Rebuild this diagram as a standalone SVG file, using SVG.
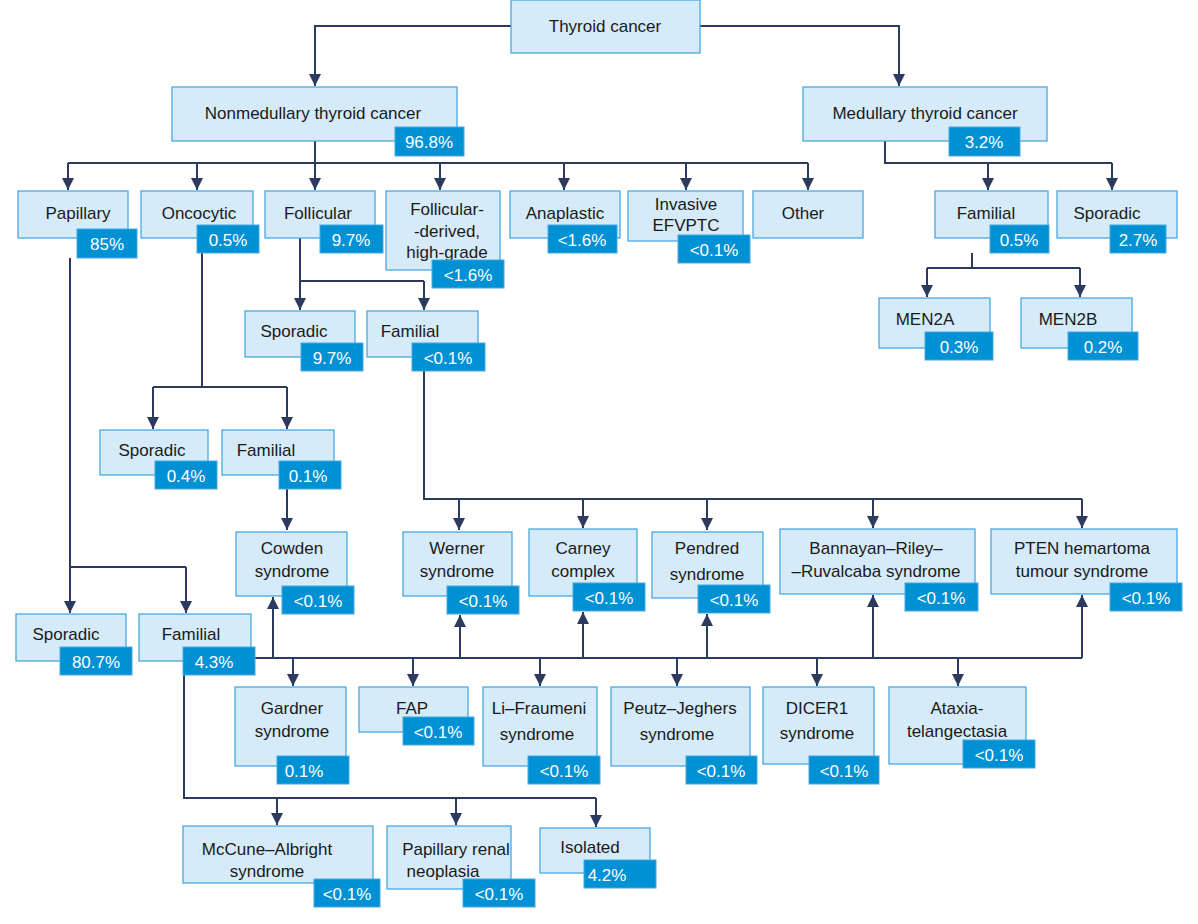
<svg xmlns="http://www.w3.org/2000/svg" width="1198" height="924" viewBox="0 0 1198 924">
<defs>
<marker id="ar" viewBox="0 0 10 10" refX="10" refY="5" markerWidth="12" markerHeight="12" markerUnits="userSpaceOnUse" orient="auto"><path d="M0,0L10,5L0,10z" fill="#2b3a5e"/></marker>
<style>
.b{fill:#d5ebf9;stroke:#4aa8e0;stroke-width:1.3}
.g{fill:#0090d4;stroke:#4aa8e0;stroke-width:1}
.t{font-family:"Liberation Sans",Arial,sans-serif;font-size:17px;fill:#1a1a1a;text-anchor:middle}
.w{font-family:"Liberation Sans",Arial,sans-serif;font-size:17px;fill:#fff;text-anchor:middle}
.c path{fill:none;stroke:#2b3a5e;stroke-width:2}
</style>
</defs>
<rect width="1198" height="924" fill="#fff"/>
<g class="c">
<path d="M511,26H315V86" marker-end="url(#ar)"/>
<path d="M700,26H899V86" marker-end="url(#ar)"/>
<path d="M315,141V163M68,163H808"/>
<path d="M68,163V190" marker-end="url(#ar)"/><path d="M197,163V190" marker-end="url(#ar)"/><path d="M315,163V190" marker-end="url(#ar)"/><path d="M440,163V190" marker-end="url(#ar)"/><path d="M564,163V190" marker-end="url(#ar)"/><path d="M686,163V190" marker-end="url(#ar)"/><path d="M808,163V190" marker-end="url(#ar)"/>
<path d="M885,141V163H1112"/>
<path d="M988,163V190" marker-end="url(#ar)"/><path d="M1112,163V190" marker-end="url(#ar)"/>
<path d="M972,253V268M927,268H1080"/>
<path d="M927,268V297" marker-end="url(#ar)"/><path d="M1080,268V297" marker-end="url(#ar)"/>
<path d="M300,238V281H424"/>
<path d="M300,281V310" marker-end="url(#ar)"/><path d="M424,281V310" marker-end="url(#ar)"/>
<path d="M202,253V387M153,387H287"/>
<path d="M153,387V429" marker-end="url(#ar)"/><path d="M287,387V429" marker-end="url(#ar)"/>
<path d="M287,489V530" marker-end="url(#ar)"/>
<path d="M424,371V499H1082"/>
<path d="M459,499V530" marker-end="url(#ar)"/><path d="M583,499V528" marker-end="url(#ar)"/><path d="M707,499V530" marker-end="url(#ar)"/><path d="M873,499V528" marker-end="url(#ar)"/><path d="M1082,499V528" marker-end="url(#ar)"/>
<path d="M70,258V567H186"/>
<path d="M70,567V613" marker-end="url(#ar)"/><path d="M186,567V613" marker-end="url(#ar)"/>
<path d="M255,658H1082"/>
<path d="M273,658V597" marker-end="url(#ar)"/><path d="M460,658V615" marker-end="url(#ar)"/><path d="M583,658V612" marker-end="url(#ar)"/><path d="M707,658V614" marker-end="url(#ar)"/><path d="M873,658V595" marker-end="url(#ar)"/><path d="M1082,658V595" marker-end="url(#ar)"/>
<path d="M293,658V686" marker-end="url(#ar)"/><path d="M413,658V686" marker-end="url(#ar)"/><path d="M540,658V686" marker-end="url(#ar)"/><path d="M677,658V686" marker-end="url(#ar)"/><path d="M817,658V686" marker-end="url(#ar)"/><path d="M958,658V686" marker-end="url(#ar)"/>
<path d="M184,675V798H596"/>
<path d="M277,798V825" marker-end="url(#ar)"/><path d="M456,798V825" marker-end="url(#ar)"/><path d="M596,798V827" marker-end="url(#ar)"/>
</g>
<g id="thyroid"><rect class="b" x="511" y="0" width="189" height="53"/><text class="t" x="605" y="32">Thyroid cancer</text></g>
<g id="nonmed"><rect class="b" x="172" y="87" width="285" height="54"/><text class="t" x="313" y="119">Nonmedullary thyroid cancer</text><rect class="g" x="395" y="127" width="69" height="29"/><text class="w" x="429" y="148">96.8%</text></g>
<g id="med"><rect class="b" x="803" y="87" width="244" height="54"/><text class="t" x="925" y="119">Medullary thyroid cancer</text><rect class="g" x="949" y="127" width="71" height="29"/><text class="w" x="984" y="148">3.2%</text></g>
<g id="papillary"><rect class="b" x="18" y="191" width="110" height="47"/><text class="t" x="78" y="219">Papillary</text><rect class="g" x="77" y="229" width="60" height="29"/><text class="w" x="107" y="250">85%</text></g>
<g id="oncocytic"><rect class="b" x="141" y="191" width="112" height="47"/><text class="t" x="199" y="219">Oncocytic</text><rect class="g" x="197" y="225" width="62" height="28"/><text class="w" x="228" y="246">0.5%</text></g>
<g id="follicular"><rect class="b" x="265" y="191" width="110" height="47"/><text class="t" x="318" y="219">Follicular</text><rect class="g" x="320" y="225" width="63" height="28"/><text class="w" x="351" y="246">9.7%</text></g>
<g id="fdhg"><rect class="b" x="386" y="191" width="114" height="79"/><text class="t" x="447" y="215">Follicular-</text><text class="t" x="447" y="237">-derived,</text><text class="t" x="447" y="258">high-grade</text><rect class="g" x="432" y="260" width="72" height="28"/><text class="w" x="468" y="281">&lt;1.6%</text></g>
<g id="anaplastic"><rect class="b" x="510" y="191" width="110" height="47"/><text class="t" x="565" y="219">Anaplastic</text><rect class="g" x="548" y="225" width="69" height="28"/><text class="w" x="582" y="246">&lt;1.6%</text></g>
<g id="efvptc"><rect class="b" x="628" y="191" width="115" height="50"/><text class="t" x="686" y="210">Invasive</text><text class="t" x="686" y="231">EFVPTC</text><rect class="g" x="678" y="235" width="72" height="28"/><text class="w" x="714" y="256">&lt;0.1%</text></g>
<g id="other"><rect class="b" x="753" y="191" width="110" height="47"/><text class="t" x="803" y="219">Other</text></g>
<g id="medfam"><rect class="b" x="935" y="191" width="113" height="47"/><text class="t" x="986" y="219">Familial</text><rect class="g" x="990" y="225" width="59" height="28"/><text class="w" x="1019" y="246">0.5%</text></g>
<g id="medspor"><rect class="b" x="1057" y="191" width="120" height="47"/><text class="t" x="1107" y="219">Sporadic</text><rect class="g" x="1110" y="225" width="56" height="28"/><text class="w" x="1138" y="246">2.7%</text></g>
<g id="men2a"><rect class="b" x="879" y="298" width="111" height="50"/><text class="t" x="925" y="325">MEN2A</text><rect class="g" x="925" y="332" width="68" height="28"/><text class="w" x="959" y="353">0.3%</text></g>
<g id="men2b"><rect class="b" x="1021" y="298" width="111" height="50"/><text class="t" x="1068" y="325">MEN2B</text><rect class="g" x="1068" y="332" width="70" height="28"/><text class="w" x="1103" y="353">0.2%</text></g>
<g id="folspor"><rect class="b" x="245" y="311" width="110" height="46"/><text class="t" x="294" y="337">Sporadic</text><rect class="g" x="301" y="343" width="62" height="28"/><text class="w" x="332" y="364">9.7%</text></g>
<g id="folfam"><rect class="b" x="367" y="311" width="111" height="46"/><text class="t" x="410" y="337">Familial</text><rect class="g" x="412" y="343" width="73" height="28"/><text class="w" x="448" y="364">&lt;0.1%</text></g>
<g id="oncspor"><rect class="b" x="100" y="430" width="108" height="45"/><text class="t" x="152" y="456">Sporadic</text><rect class="g" x="155" y="461" width="62" height="28"/><text class="w" x="186" y="482">0.4%</text></g>
<g id="oncfam"><rect class="b" x="222" y="430" width="112" height="45"/><text class="t" x="266" y="456">Familial</text><rect class="g" x="279" y="461" width="62" height="28"/><text class="w" x="308" y="482">0.1%</text></g>
<g id="cowden"><rect class="b" x="236" y="532" width="111" height="64"/><text class="t" x="292" y="554">Cowden</text><text class="t" x="292" y="577">syndrome</text><rect class="g" x="282" y="586" width="72" height="28"/><text class="w" x="318" y="607">&lt;0.1%</text></g>
<g id="werner"><rect class="b" x="403" y="532" width="109" height="64"/><text class="t" x="457" y="554">Werner</text><text class="t" x="457" y="577">syndrome</text><rect class="g" x="447" y="586" width="72" height="28"/><text class="w" x="483" y="607">&lt;0.1%</text></g>
<g id="carney"><rect class="b" x="529" y="529" width="108" height="67"/><text class="t" x="583" y="554">Carney</text><text class="t" x="583" y="577">complex</text><rect class="g" x="573" y="583" width="72" height="28"/><text class="w" x="609" y="604">&lt;0.1%</text></g>
<g id="pendred"><rect class="b" x="652" y="532" width="111" height="66"/><text class="t" x="707" y="554">Pendred</text><text class="t" x="707" y="580">syndrome</text><rect class="g" x="698" y="585" width="72" height="28"/><text class="w" x="734" y="606">&lt;0.1%</text></g>
<g id="bannayan"><rect class="b" x="780" y="529" width="195" height="65"/><text class="t" x="876" y="554">Bannayan–Riley–</text><text class="t" x="876" y="577">–Ruvalcaba syndrome</text><rect class="g" x="905" y="583" width="73" height="28"/><text class="w" x="941" y="604">&lt;0.1%</text></g>
<g id="pten"><rect class="b" x="991" y="529" width="186" height="65"/><text class="t" x="1082" y="554">PTEN hemartoma</text><text class="t" x="1082" y="577">tumour syndrome</text><rect class="g" x="1110" y="583" width="72" height="28"/><text class="w" x="1146" y="604">&lt;0.1%</text></g>
<g id="papspor"><rect class="b" x="16" y="614" width="110" height="47"/><text class="t" x="66" y="640">Sporadic</text><rect class="g" x="60" y="647" width="72" height="28"/><text class="w" x="96" y="668">80.7%</text></g>
<g id="papfam"><rect class="b" x="139" y="614" width="112" height="47"/><text class="t" x="191" y="640">Familial</text><rect class="g" x="183" y="647" width="72" height="28"/><text class="w" x="214" y="668">4.3%</text></g>
<g id="gardner"><rect class="b" x="235" y="687" width="111" height="79"/><text class="t" x="292" y="714">Gardner</text><text class="t" x="292" y="737">syndrome</text><rect class="g" x="277" y="756" width="72" height="28"/><text class="w" x="304" y="777">0.1%</text></g>
<g id="fap"><rect class="b" x="359" y="687" width="109" height="45"/><text class="t" x="412" y="714">FAP</text><rect class="g" x="403" y="717" width="71" height="28"/><text class="w" x="438" y="738">&lt;0.1%</text></g>
<g id="lifraumeni"><rect class="b" x="483" y="687" width="114" height="79"/><text class="t" x="539" y="714">Li–Fraumeni</text><text class="t" x="537" y="740">syndrome</text><rect class="g" x="528" y="756" width="72" height="28"/><text class="w" x="564" y="777">&lt;0.1%</text></g>
<g id="peutz"><rect class="b" x="611" y="687" width="139" height="79"/><text class="t" x="680" y="714">Peutz–Jeghers</text><text class="t" x="677" y="740">syndrome</text><rect class="g" x="686" y="756" width="71" height="28"/><text class="w" x="721" y="777">&lt;0.1%</text></g>
<g id="dicer"><rect class="b" x="763" y="687" width="111" height="77"/><text class="t" x="817" y="714">DICER1</text><text class="t" x="817" y="739">syndrome</text><rect class="g" x="809" y="756" width="70" height="28"/><text class="w" x="844" y="777">&lt;0.1%</text></g>
<g id="ataxia"><rect class="b" x="889" y="687" width="137" height="77"/><text class="t" x="957" y="714">Ataxia-</text><text class="t" x="957" y="737">telangectasia</text><rect class="g" x="963" y="740" width="72" height="28"/><text class="w" x="999" y="761">&lt;0.1%</text></g>
<g id="mccune"><rect class="b" x="183" y="826" width="190" height="57"/><text class="t" x="267" y="855">McCune–Albright</text><text class="t" x="267" y="877">syndrome</text><rect class="g" x="314" y="879" width="66" height="28"/><text class="w" x="347" y="900">&lt;0.1%</text></g>
<g id="renal"><rect class="b" x="387" y="826" width="124" height="63"/><text class="t" x="456" y="855">Papillary renal</text><text class="t" x="443" y="877">neoplasia</text><rect class="g" x="463" y="879" width="72" height="28"/><text class="w" x="499" y="900">&lt;0.1%</text></g>
<g id="isolated"><rect class="b" x="540" y="828" width="110" height="45"/><text class="t" x="590" y="853">Isolated</text><rect class="g" x="584" y="860" width="72" height="28"/><text class="w" x="607" y="881">4.2%</text></g>
</svg>
